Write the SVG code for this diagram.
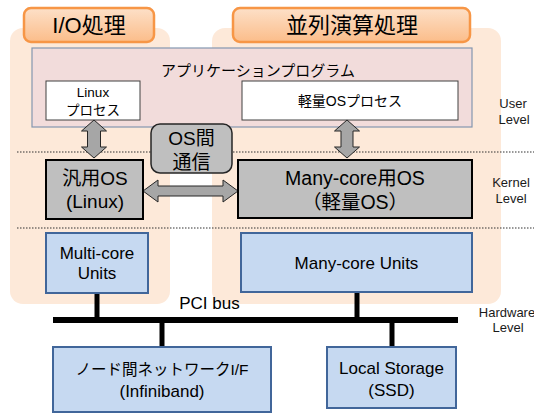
<svg xmlns="http://www.w3.org/2000/svg" width="534" height="413" viewBox="0 0 534 413">
<defs>
<linearGradient id="og" x1="0" y1="0" x2="0" y2="1">
<stop offset="0" stop-color="#fde0c8"/>
<stop offset="1" stop-color="#fbbd8a"/>
</linearGradient>
</defs>
<style>
text{font-family:"Liberation Sans","Noto Sans CJK JP",sans-serif;fill:#000;text-anchor:middle}
.panel{fill:#fde9d9;stroke:none}
.title{fill:url(#og);stroke:#f79646;stroke-width:2.5}
.app{fill:#f2dcdb;stroke:#8497b0;stroke-width:1.2}
.proc{fill:#fff;stroke:#404040;stroke-width:1}
.os{fill:#bfbfbf;stroke:#000;stroke-width:2}
.comm{fill:#bfbfbf;stroke:#262626;stroke-width:1.5}
.arrow{fill:#a6a6a6;stroke:#262626;stroke-width:1}
.hw{fill:#c6d9f1;stroke:#41669a;stroke-width:2}
.dot{stroke:#333;stroke-width:1.2;stroke-dasharray:1.5 1.5;fill:none}
.bus{stroke:#000;stroke-width:6;fill:none}
.wire{stroke:#000;stroke-width:5;fill:none}
.lvl{font-size:13px;fill:#1a1a1a}
</style>
<g id="panels">
<rect class="panel" x="10" y="28" width="160" height="276" rx="13"/>
<rect class="panel" x="212" y="28" width="289" height="276" rx="13"/>
</g>
<g id="title-io">
<rect class="title" x="24" y="8" width="130" height="34" rx="7"/>
<text x="89" y="33" font-size="22">I/O処理</text>
</g>
<g id="title-parallel">
<rect class="title" x="233" y="8" width="237" height="34" rx="7"/>
<text x="352" y="33" font-size="22">並列演算処理</text>
</g>
<g id="app">
<rect class="app" x="32" y="48" width="440" height="79"/>
<text x="258" y="75.5" font-size="15">アプリケーションプログラム</text>
</g>
<g id="linux-proc">
<rect class="proc" x="46" y="81" width="94" height="39"/>
<text x="93" y="97" font-size="13.5">Linux</text>
<text x="93" y="114.5" font-size="13.5">プロセス</text>
</g>
<g id="light-proc">
<rect class="proc" x="242" y="81" width="216" height="39"/>
<text x="350" y="106" font-size="14">軽量OSプロセス</text>
</g>
<g id="levels">
<line class="dot" x1="17" y1="152" x2="534" y2="152"/>
<line class="dot" x1="17" y1="228" x2="534" y2="228"/>
</g>
<g id="connectors">
<path class="arrow" d="M94,120 L106.5,131 L100.5,131 L100.5,147 L106.5,147 L94,158 L81.5,147 L87.5,147 L87.5,131 L81.5,131 Z"/>
<path class="arrow" d="M347,120 L359.5,131 L353,131 L353,147 L359.5,147 L347,158 L334.5,147 L341,147 L341,131 L334.5,131 Z"/>
<path class="arrow" d="M143,191 L158,180 L158,186 L223,186 L223,180 L238,191 L223,202 L223,196 L158,196 L158,202 Z"/>
<line class="bus" x1="53" y1="320" x2="458" y2="320"/>
<line class="wire" x1="97" y1="293" x2="97" y2="320"/>
<line class="wire" x1="357" y1="292" x2="357" y2="320"/>
<line class="wire" x1="162" y1="320" x2="162" y2="347"/>
<line class="wire" x1="392" y1="320" x2="392" y2="347"/>
</g>
<g id="os-comm">
<rect class="comm" x="151" y="124" width="81" height="49" rx="9"/>
<text x="191.5" y="145" font-size="19">OS間</text>
<text x="191.5" y="169" font-size="19">通信</text>
</g>
<g id="general-os">
<rect class="os" x="46" y="160" width="97" height="59"/>
<text x="95" y="185" font-size="19">汎用OS</text>
<text x="95" y="208" font-size="19">(Linux)</text>
</g>
<g id="manycore-os">
<rect class="os" x="238" y="160" width="234" height="58"/>
<text x="355" y="185" font-size="19.5">Many-core用OS</text>
<text x="355" y="209" font-size="19.5">（軽量OS）</text>
</g>
<g id="multicore-units">
<rect class="hw" x="46" y="233" width="102" height="60"/>
<text x="97" y="259" font-size="17">Multi-core</text>
<text x="97" y="279" font-size="17">Units</text>
</g>
<g id="manycore-units">
<rect class="hw" x="241" y="233" width="231" height="59"/>
<text x="356.5" y="269" font-size="17">Many-core Units</text>
</g>
<g id="pci-label">
<text x="209.5" y="309" font-size="17">PCI bus</text>
</g>
<g id="nic">
<rect class="hw" x="53" y="347" width="218" height="65"/>
<text x="162" y="375" font-size="15.5">ノード間ネットワークI/F</text>
<text x="162" y="397" font-size="17">(Infiniband)</text>
</g>
<g id="storage">
<rect class="hw" x="327" y="347" width="129" height="61"/>
<text x="391.5" y="374" font-size="17">Local Storage</text>
<text x="391.5" y="396" font-size="17">(SSD)</text>
</g>
<g id="level-labels">
<text class="lvl" x="513" y="108">User</text>
<text class="lvl" x="514" y="124">Level</text>
<text class="lvl" x="511" y="187">Kernel</text>
<text class="lvl" x="511" y="203">Level</text>
<text class="lvl" x="507" y="317">Hardware</text>
<text class="lvl" x="508" y="332">Level</text>
</g>
</svg>
